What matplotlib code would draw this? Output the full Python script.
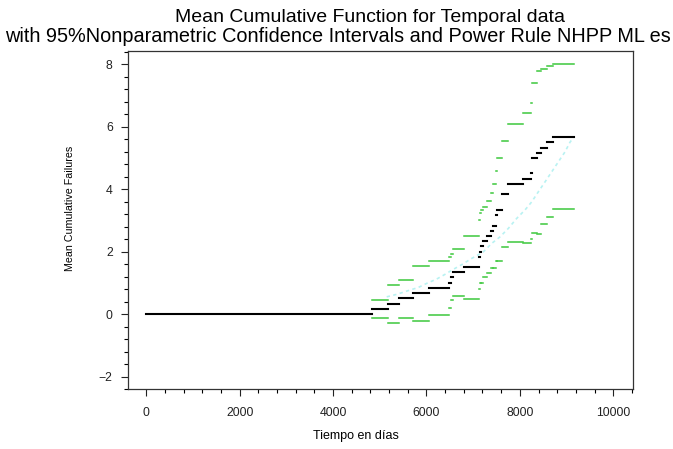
import matplotlib
matplotlib.use("Agg")
import matplotlib.pyplot as plt
from matplotlib.ticker import MultipleLocator

plt.rcParams['font.family'] = ['Liberation Sans', 'DejaVu Sans']

# step boundaries (days) shared by the MCF and its confidence limits
breaks = [0, 4833, 5182, 5418, 5718, 6060, 6476, 6532, 6562, 6810, 7131, 7140,
          7161, 7217, 7296, 7376, 7425, 7489, 7517, 7611, 7624, 7753, 8061, 8239,
          8254, 8361, 8447, 8588, 8717, 9160]
mcf = [0, 0.17, 0.33, 0.50, 0.67, 0.83, 1.00, 1.17, 1.33, 1.50, 1.83, 2.00, 2.17,
       2.33, 2.50, 2.67, 2.83, 3.17, 3.33, 3.67, 3.83, 4.17, 4.33, 4.50, 5.00,
       5.17, 5.33, 5.50, 5.67]
upper = [0, 0.45, 0.93, 1.09, 1.55, 1.71, 1.81, 1.92, 2.08, 2.51, 3.01, 3.24, 3.33,
         3.43, 3.63, 3.86, 4.16, 4.59, 5.00, 5.46, 5.55, 6.07, 6.42, 6.77, 7.38,
         7.79, 7.84, 7.94, 7.99]
lower = [0, -0.14, -0.28, -0.14, -0.21, -0.03, 0.19, 0.45, 0.59, 0.48, 0.79, 0.98,
         0.98, 1.19, 1.32, 1.46, 1.46, 1.70, 1.70, 1.90, 2.15, 2.30, 2.28, 2.40,
         2.60, 2.56, 2.87, 3.11, 3.36]

# power rule NHPP fit
fit_t = [5148, 5362, 5610, 5825, 6004, 6219, 6397, 6574, 6754, 6969, 7217, 7397,
         7575, 7753, 7932, 8110, 8254, 8395, 8539, 8682, 8824, 8967, 9074, 9150]
fit_v = [0.55, 0.63, 0.75, 0.85, 0.98, 1.12, 1.27, 1.43, 1.58, 1.78, 1.99, 2.26,
         2.47, 2.74, 3.06, 3.33, 3.59, 3.91, 4.23, 4.55, 4.87, 5.19, 5.50, 5.65]

fig = plt.figure(figsize=(6.73, 4.49), dpi=100)
ax = fig.add_axes([128/673, 60/449, 505/673, 338/449])

starts = breaks[:-1]
ends = breaks[1:]
green = '#3cc83c'
ax.hlines(upper, starts, ends, colors=green, linewidth=1.1, capstyle='projecting')
ax.hlines(lower, starts, ends, colors=green, linewidth=1.1, capstyle='projecting')
ax.plot(fit_t, fit_v, color='#b8f2f2', linewidth=1.2, linestyle=(0, (2, 2)))
ax.hlines(mcf, starts, ends, colors='black', linewidth=1.5, capstyle='projecting')

ax.set_xlim(-394, 10424)
ax.set_ylim(-2.40, 8.42)
ax.xaxis.set_major_locator(MultipleLocator(2000))
ax.xaxis.set_minor_locator(MultipleLocator(400))
ax.yaxis.set_major_locator(MultipleLocator(2))
ax.yaxis.set_minor_locator(MultipleLocator(0.4))
ax.tick_params(which='major', length=5, width=0.8, labelsize=8.8, colors='#222222')
ax.tick_params(which='minor', length=3, width=0.8)
ax.tick_params(axis='x', pad=8)
ax.tick_params(axis='y', pad=6)
for s in ax.spines.values():
    s.set_linewidth(0.9)
    s.set_color('#333333')

# two title lines, each centred where the reference puts it
fig.text(369.5/673, 1 - 22.5/449, 'Mean Cumulative Function for Temporal data',
         ha='center', va='baseline', fontsize=14)
fig.text(338/673, 1 - 41.5/449,
         'with 95%Nonparametric Confidence Intervals and Power Rule NHPP ML es',
         ha='center', va='baseline', fontsize=14.3)
fig.text(356/673, 1 - 436/449, 'Tiempo en días', ha='center', va='center', fontsize=9)
fig.text(70/673, 1 - 208/449, 'Mean Cumulative Failures', ha='center', va='center',
         rotation=90, fontsize=7.7)

fig.savefig('out.png', dpi=100)
